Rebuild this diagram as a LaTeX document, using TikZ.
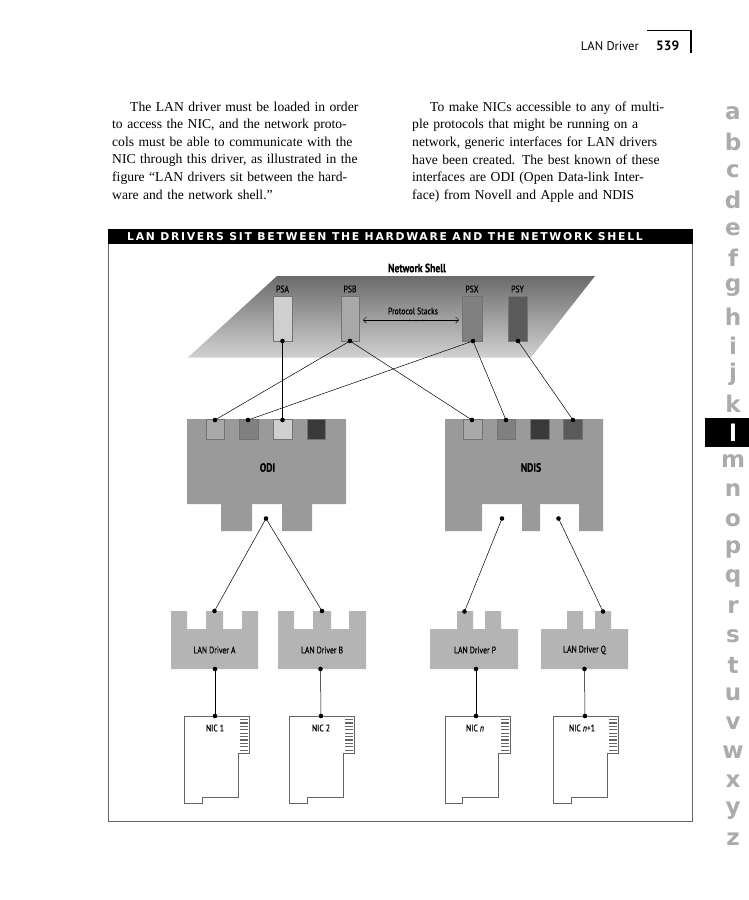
\documentclass[tikz,border=0pt]{standalone}
\usepackage{fontspec}
\setmainfont{Liberation Serif}
\newfontfamily\figfont[FakeStretch=0.8,FakeBold=0.4]{PT Sans}
\newfontfamily\headfont{PT Sans}
\newfontfamily\barfont[LetterSpace=16]{DejaVu Sans}
\newfontfamily\tabfont{DejaVu Sans}
\usepackage{tikz}
\usetikzlibrary{arrows.meta}

\definecolor{stackA}{HTML}{CFCFCF}
\definecolor{stackB}{HTML}{A8A8A8}
\definecolor{stackX}{HTML}{808080}
\definecolor{stackY}{HTML}{5A5A5A}
\definecolor{stackZ}{HTML}{3A3A3A}
\definecolor{layerfill}{HTML}{9A9A9A}
\definecolor{driverfill}{HTML}{B4B4B4}
\definecolor{tabgray}{HTML}{ABABAB}

\begin{document}
\begin{tikzpicture}[x=1pt,y=-1pt,>={Straight Barb[length=3pt,width=6pt]},line join=miter,
  wire/.style={line width=0.5pt},
  slotbox/.style={draw=black!55,line width=0.4pt},
  figlbl/.style={font=\figfont\fontsize{9.6}{10}\selectfont,inner sep=0pt},
  figbold/.style={font=\figfont\bfseries\fontsize{12}{12}\selectfont,inner sep=0pt},
  bodytext/.style={font=\fontsize{13.6}{17.6}\selectfont,text width=278pt,align=left,inner sep=0pt,anchor=north west},
  nicline/.style={draw=black!60,line width=0.6pt},
  tab/.style={font=\tabfont\bfseries\fontsize{23}{23}\selectfont,text=tabgray,inner sep=0pt}]
  \useasboundingbox (0,0) rectangle (749,900);
  \fill[white] (0,0) rectangle (749,900);

  % running head
  \node[font=\headfont\fontsize{12.5}{13}\selectfont,inner sep=0pt,anchor=base east] (runhead) at (639,50) {LAN Driver};
  \node[font=\headfont\bfseries\fontsize{13.5}{14}\selectfont,inner sep=0pt,anchor=base west] (pagenum) at (656,50) {539};
  \draw[line width=0.5pt] (647,30) -- (691,30);
  \draw[line width=1.5pt] (691,29.5) -- (691,53);

  % text columns
  \node[bodytext] (leftcol) at (112,101.5) {%
    \makebox[\linewidth][s]{\hspace*{18pt}The LAN driver must be loaded in order}\\
    \makebox[\linewidth][s]{to access the NIC, and the network proto-}\\
    \makebox[\linewidth][s]{cols must be able to communicate with the}\\
    \makebox[\linewidth][s]{NIC through this driver, as illustrated in the}\\
    \makebox[\linewidth][s]{figure “LAN drivers sit between the hard-}\\
    ware and the network shell.”};
  \node[bodytext] (rightcol) at (412,101.5) {%
    \makebox[\linewidth][s]{\hspace*{18pt}To make NICs accessible to any of multi-}\\
    \makebox[\linewidth][s]{ple protocols that might be running on a}\\
    \makebox[\linewidth][s]{network, generic interfaces for LAN drivers}\\
    \makebox[\linewidth][s]{have been created. The best known of these}\\
    \makebox[\linewidth][s]{interfaces are ODI (Open Data-link Inter-}\\
    face) from Novell and Apple and NDIS};

  % figure frame and title bar
  \draw[black!60,line width=1pt] (108,229) -- (108,821) -- (692,821) -- (692,229);
  \fill[black] (107.5,229) rectangle (692.5,243.5);
  \node[font=\barfont\bfseries\fontsize{10.8}{11}\selectfont,text=white,inner sep=0pt] (figtitle) at (385,236.6)
    {LAN DRIVERS SIT BETWEEN THE HARDWARE AND THE NETWORK SHELL};

  % network shell
  \shade[top color=black!58,bottom color=black!18] (277,276) -- (595,276) -- (531,357.5) -- (188,357.5) -- cycle;
  \node[figbold] (shell) at (417,268) {Network Shell};
  \fill[stackA,slotbox] (273,296) rectangle (292,341);
  \fill[stackB,slotbox] (341,296) rectangle (359,341);
  \fill[stackX,slotbox] (462,296) rectangle (482,341);
  \fill[stackY,slotbox] (508,296) rectangle (527,341);
  \node[figlbl] (psa) at (282.5,289) {PSA};
  \node[figlbl] (psb) at (350,289) {PSB};
  \node[figlbl] (psx) at (472,289) {PSX};
  \node[figlbl] (psy) at (517.5,289) {PSY};
  \node[figlbl] (stacks) at (413,311) {Protocol Stacks};
  \coordinate (arrl) at (363,320);
  \coordinate (arrr) at (459,320);
  \draw[wire,<->] (arrl) -- (arrr);
  \fill (403,320.5) circle (0.9pt) (409.5,320.5) circle (0.9pt) (416,320.5) circle (0.9pt) (422.5,320.5) circle (0.9pt);
  \coordinate (psa-d) at (282.5,341);
  \coordinate (psb-d) at (350,341);
  \coordinate (psx-d) at (473,341);
  \coordinate (psy-d) at (518,341);

  % ODI and NDIS layers
  \fill[layerfill] (187,419) -- (346,419) -- (346,504) -- (312,504) -- (312,531) -- (282,531) -- (282,504)
    -- (252,504) -- (252,531) -- (221,531) -- (221,504) -- (187,504) -- cycle;
  \fill[layerfill] (445,419) -- (603,419) -- (603,531) -- (579,531) -- (579,504) -- (540,504) -- (540,531)
    -- (522,531) -- (522,504) -- (482,504) -- (482,531) -- (445,531) -- cycle;
  \fill[stackB,slotbox] (206,419) rectangle (224.5,439.5);
  \fill[stackX,slotbox] (239.5,419) rectangle (258,439.5);
  \fill[stackA,slotbox] (273,419) rectangle (292,439.5);
  \fill[stackZ,slotbox] (307,419) rectangle (325.5,439.5);
  \fill[stackB,slotbox] (463,419) rectangle (482,439.5);
  \fill[stackX,slotbox] (497,419) rectangle (515,439.5);
  \fill[stackZ,slotbox] (530,419) rectangle (549,439.5);
  \fill[stackY,slotbox] (563.5,419) rectangle (582,439.5);
  \node[figbold] (odi) at (267.5,467.5) {ODI};
  \node[figbold] (ndis) at (531,467.5) {NDIS};
  \coordinate (odi-1) at (215,420);
  \coordinate (odi-2) at (248,420);
  \coordinate (odi-3) at (282.5,420);
  \coordinate (ndis-1) at (472,420);
  \coordinate (ndis-2) at (506,420);
  \coordinate (ndis-4) at (573,420);
  \coordinate (odi-out) at (266,518.5);
  \coordinate (ndis-outa) at (502,518.5);
  \coordinate (ndis-outb) at (558.5,518.5);

  % LAN drivers
  \fill[driverfill] (171,669) -- (171,611) -- (187,611) -- (187,629) -- (206,629) -- (206,611) -- (223,611)
    -- (223,629) -- (242,629) -- (242,611) -- (258,611) -- (258,669) -- cycle;
  \fill[driverfill] (278,669) -- (278,611) -- (294,611) -- (294,629) -- (313,629) -- (313,611) -- (331,611)
    -- (331,629) -- (349,629) -- (349,611) -- (366,611) -- (366,669) -- cycle;
  \fill[driverfill] (430,669) -- (430,629) -- (457,629) -- (457,611) -- (473,611) -- (473,629) -- (485,629)
    -- (485,611) -- (501,611) -- (501,629) -- (518,629) -- (518,669) -- cycle;
  \fill[driverfill] (541,669) -- (541,629) -- (567,629) -- (567,611) -- (583,611) -- (583,629) -- (595,629)
    -- (595,611) -- (611,611) -- (611,629) -- (628,629) -- (628,669) -- cycle;
  \node[figlbl] (drva) at (214.5,650) {LAN Driver A};
  \node[figlbl] (drvb) at (322,650) {LAN Driver B};
  \node[figlbl] (drvp) at (475,650) {LAN Driver P};
  \node[figlbl] (drvq) at (584.5,650) {LAN Driver Q};
  \coordinate (drva-in) at (214.5,611);
  \coordinate (drvb-in) at (322,611);
  \coordinate (drvp-in) at (464.5,611.5);
  \coordinate (drvq-in) at (603,611.5);
  \coordinate (drva-out) at (215,669);
  \coordinate (drvb-out) at (320.5,669);
  \coordinate (drvp-out) at (476,669);
  \coordinate (drvq-out) at (584.5,669);

  % NICs
  \draw[nicline] (184,716) -- (249,716) -- (249,753) -- (238,753) -- (238,797) -- (202,797) -- (202,803) -- (184,803) -- cycle;
  \draw[nicline] (289.5,716) -- (354.5,716) -- (354.5,753) -- (343,753) -- (343,797) -- (307,797) -- (307,803) -- (289.5,803) -- cycle;
  \draw[nicline] (445,716) -- (510,716) -- (510,753) -- (498.5,753) -- (498.5,797) -- (462.5,797) -- (462.5,803) -- (445,803) -- cycle;
  \draw[nicline] (553.5,716) -- (618.5,716) -- (618.5,753) -- (607,753) -- (607,797) -- (571,797) -- (571,803) -- (553.5,803) -- cycle;
  \draw[black!60,line width=8pt,dash pattern=on 1.1pt off 2.3pt] (243.5,719) -- (243.5,751);
  \draw[black!60,line width=8pt,dash pattern=on 1.1pt off 2.3pt] (349,719) -- (349,751);
  \draw[black!60,line width=8pt,dash pattern=on 1.1pt off 2.3pt] (504.5,719) -- (504.5,751);
  \draw[black!60,line width=8pt,dash pattern=on 1.1pt off 2.3pt] (613,719) -- (613,751);
  \node[figlbl] (nic1) at (215,728) {NIC 1};
  \node[figlbl] (nic2) at (321,728) {NIC 2};
  \node[figlbl] (nicn) at (475,728) {NIC \textit{n}};
  \node[figlbl] (nicn1) at (582,728) {NIC \textit{n}+1};
  \coordinate (nic1-in) at (215,716);
  \coordinate (nic2-in) at (321,716);
  \coordinate (nicn-in) at (476,716);
  \coordinate (nicn1-in) at (585,716);

  % connections
  \draw[wire] (psa-d) -- (odi-3);
  \draw[wire] (psb-d) -- (odi-1);
  \draw[wire] (psb-d) -- (ndis-1);
  \draw[wire] (psx-d) -- (odi-2);
  \draw[wire] (psx-d) -- (ndis-2);
  \draw[wire] (psy-d) -- (ndis-4);
  \draw[wire] (odi-out) -- (drva-in);
  \draw[wire] (odi-out) -- (drvb-in);
  \draw[wire] (ndis-outa) -- (drvp-in);
  \draw[wire] (ndis-outb) -- (drvq-in);
  \draw[wire] (drva-out) -- (nic1-in);
  \draw[wire] (drvb-out) -- (nic2-in);
  \draw[wire] (drvp-out) -- (nicn-in);
  \draw[wire] (drvq-out) -- (nicn1-in);
  \foreach \c in {psa-d,psb-d,psx-d,psy-d,odi-1,odi-2,odi-3,ndis-1,ndis-2,ndis-4,odi-out,ndis-outa,ndis-outb,
      drva-in,drvb-in,drvp-in,drvq-in,drva-out,drvb-out,drvp-out,drvq-out,nic1-in,nic2-in,nicn-in,nicn1-in}
    \fill (\c) circle (2.3pt);

  % thumb index
  \fill[black] (705,418) rectangle (749,447);
  \node[tab] (tab-a) at (733,113) {a};
  \node[tab] (tab-b) at (733,142) {b};
  \node[tab] (tab-c) at (733,171) {c};
  \node[tab] (tab-d) at (733,200) {d};
  \node[tab] (tab-e) at (733,229) {e};
  \node[tab] (tab-f) at (733,258) {f};
  \node[tab] (tab-g) at (733,287.5) {g};
  \node[tab] (tab-h) at (733,316.5) {h};
  \node[tab] (tab-i) at (733,345.5) {i};
  \node[tab] (tab-j) at (733,374.5) {j};
  \node[tab] (tab-k) at (733,403.5) {k};
  \node[tab,text=white] (tab-l) at (733,432.5) {l};
  \node[tab] (tab-m) at (733,461.5) {m};
  \node[tab] (tab-n) at (733,490.5) {n};
  \node[tab] (tab-o) at (733,520) {o};
  \node[tab] (tab-p) at (733,549) {p};
  \node[tab] (tab-q) at (733,578) {q};
  \node[tab] (tab-r) at (733,607) {r};
  \node[tab] (tab-s) at (733,636) {s};
  \node[tab] (tab-t) at (733,665) {t};
  \node[tab] (tab-u) at (733,694.5) {u};
  \node[tab] (tab-v) at (733,723.5) {v};
  \node[tab] (tab-w) at (733,752.5) {w};
  \node[tab] (tab-x) at (733,781.5) {x};
  \node[tab] (tab-y) at (733,810.5) {y};
  \node[tab] (tab-z) at (733,839.5) {z};
\end{tikzpicture}
\end{document}
